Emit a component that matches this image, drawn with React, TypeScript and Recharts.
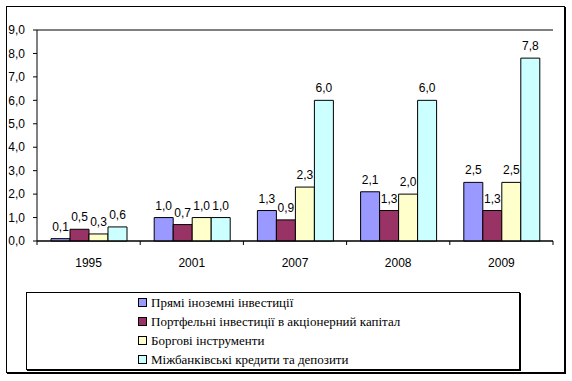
import React from 'react'
import { BarChart, Bar, XAxis, YAxis, CartesianGrid, Legend, LabelList, ReferenceLine } from 'recharts'

const years = ['1995', '2001', '2007', '2008', '2009']
const direct = [0.1, 1.0, 1.3, 2.1, 2.5]
const portfolio = [0.5, 0.7, 0.9, 1.3, 1.3]
const debt = [0.3, 1.0, 2.3, 2.0, 2.5]
const interbank = [0.6, 1.0, 6.0, 6.0, 7.8]
const yTicks = [0, 1, 2, 3, 4, 5, 6, 7, 8, 9]

const seriesNames = [
  'Прямі іноземні інвестиції',
  'Портфельні інвестиції в акціонерний капітал',
  'Боргові інструменти',
  'Міжбанківські кредити та депозити',
]

const data = years.map((year, i) => ({
  year,
  direct: direct[i],
  portfolio: portfolio[i],
  debt: debt[i],
  interbank: interbank[i],
}))

const W = 572
const H = 381
const PLOT_LEFT = 37
const PLOT_RIGHT = 553
const BAND = (PLOT_RIGHT - PLOT_LEFT) / years.length

const fmt = (v: any) => Number(v).toFixed(1).replace('.', ',')
const sans = "'Liberation Sans', Arial, sans-serif"
const serif = "'Liberation Serif', 'DejaVu Serif', serif"

function YearTick(props: any) {
  const { x, y, payload, index } = props
  const last = index === years.length - 1
  return (
    <g>
      <line x1={x - BAND / 2} y1={y} x2={x - BAND / 2} y2={y + 4} stroke="#000" />
      {last && <line x1={x + BAND / 2} y1={y} x2={x + BAND / 2} y2={y + 4} stroke="#000" />}
      <text x={x} y={y + 26} textAnchor="middle" fontSize={12} fontFamily={sans} fill="#000">
        {payload.value}
      </text>
    </g>
  )
}

function LegendBox(props: any) {
  const items = [...(props.payload || [])].sort(
    (a: any, b: any) => seriesNames.indexOf(a.value) - seriesNames.indexOf(b.value)
  )
  return (
    <div
      style={{
        width: 494,
        height: 78,
        border: '1px solid #000',
        boxShadow: '1px 1px 0 #000',
        background: '#fff',
        boxSizing: 'border-box',
        paddingLeft: 111,
        fontFamily: serif,
        fontSize: 13,
        color: '#000',
      }}
    >
      {items.map((p: any) => (
        <div key={p.value} style={{ height: 19, lineHeight: '19px', display: 'flex', alignItems: 'center', fontFamily: serif }}>
          <span
            style={{
              display: 'inline-block',
              width: 7,
              height: 7,
              border: '1px solid #000',
              background: p.color,
              marginRight: 4,
            }}
          />
          <span style={{ fontFamily: serif }}>{p.value}</span>
        </div>
      ))}
    </div>
  )
}

const labelStyle = { fill: '#000', fontSize: 12, fontFamily: sans }

export default function App() {
  return (
    <div style={{ position: 'absolute', left: 0, top: 0, width: W, height: H, background: '#fff' }}>
      <div
        style={{
          position: 'absolute',
          left: 6,
          top: 6,
          width: 559,
          height: 367,
          border: '1px solid #000',
          boxShadow: '1px 1px 0 #000',
          boxSizing: 'border-box',
        }}
      />
      <div style={{ position: 'absolute', left: 0, top: 0 }}>
        <BarChart
          width={W}
          height={H}
          data={data}
          margin={{ top: 30, right: W - PLOT_RIGHT, left: 0, bottom: 110 }}
          barCategoryGap={14}
          barGap={0}
        >
          <CartesianGrid vertical={false} stroke="#000" strokeOpacity={1} />
          <XAxis
            dataKey="year"
            height={30}
            axisLine={{ stroke: '#000' }}
            tickLine={false}
            tickSize={0}
            tickMargin={0}
            tick={<YearTick />}
            interval={0}
          />
          <YAxis
            yAxisId="left"
            width={PLOT_LEFT}
            domain={[0, 9]}
            ticks={yTicks}
            interval={0}
            tickFormatter={fmt}
            axisLine={{ stroke: '#000' }}
            tickLine={{ stroke: '#000' }}
            tickSize={4}
            tickMargin={8}
            tick={{ fill: '#000', fontSize: 12, fontFamily: sans }}
          />
          <YAxis
            yAxisId="right"
            orientation="right"
            width={0}
            domain={[0, 9]}
            tick={false}
            tickLine={false}
            axisLine={{ stroke: '#808080' }}
          />
          <ReferenceLine yAxisId="left" y={9} stroke="#808080" />
          <Legend
            layout="vertical"
            align="center"
            verticalAlign="middle"
            wrapperStyle={{ left: 26, top: 292, width: 495, height: 79 }}
            content={<LegendBox />}
          />
          <Bar yAxisId="left" dataKey="direct" name={seriesNames[0]} fill="#9999FF" stroke="#000" strokeWidth={1} isAnimationActive={false}>
            <LabelList dataKey="direct" position="top" offset={8} formatter={fmt} style={labelStyle} />
          </Bar>
          <Bar yAxisId="left" dataKey="portfolio" name={seriesNames[1]} fill="#993366" stroke="#000" strokeWidth={1} isAnimationActive={false}>
            <LabelList dataKey="portfolio" position="top" offset={8} formatter={fmt} style={labelStyle} />
          </Bar>
          <Bar yAxisId="left" dataKey="debt" name={seriesNames[2]} fill="#FFFFCC" stroke="#000" strokeWidth={1} isAnimationActive={false}>
            <LabelList dataKey="debt" position="top" offset={8} formatter={fmt} style={labelStyle} />
          </Bar>
          <Bar yAxisId="left" dataKey="interbank" name={seriesNames[3]} fill="#CCFFFF" stroke="#000" strokeWidth={1} isAnimationActive={false}>
            <LabelList dataKey="interbank" position="top" offset={8} formatter={fmt} style={labelStyle} />
          </Bar>
        </BarChart>
      </div>
    </div>
  )
}
